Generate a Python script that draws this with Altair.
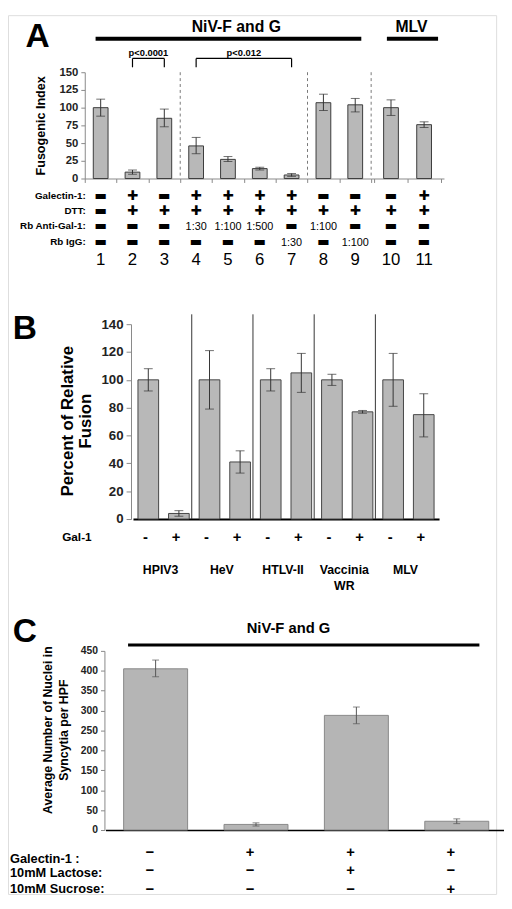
import altair as alt
import pandas as pd

FONT = "Liberation Sans"
SYMFONT = "DejaVu Sans"
W, H = 496, 893
BAR_FILL = "#b8b8b8"
DARK = "#222222"
GRID = "#888888"

# ---------------- Panel A data ----------------
a_lanes = ["1", "2", "3", "4", "5", "6", "7", "8", "9", "10", "11"]
a_values = [100, 9, 85, 46, 27, 14, 5, 107, 104, 100, 76]
a_err_lo = [88, 6, 73, 35, 24, 12, 3, 96, 94, 89, 72]
a_err_hi = [112, 12, 98, 58, 31, 16, 7, 119, 113, 111, 80]
a_virus = ["NiV"] * 9 + ["MLV"] * 2
a_galectin = ["−", "+", "−", "+", "+", "+", "+", "−", "−", "−", "+"]
a_dtt = ["−", "+", "+", "+", "+", "+", "+", "+", "+", "+", "+"]
a_anti_gal = ["−", "−", "−", "1:30", "1:100", "1:500", "−", "1:100", "−", "−", "−"]
a_rb_igg = ["−", "−", "−", "−", "−", "−", "1:30", "−", "1:100", "−", "−"]
a_row_labels = ["Galectin-1:", "DTT:", "Rb Anti-Gal-1:", "Rb IgG:"]
a_dividers = ["3", "7", "9"]
a_br_from = ["2", "4"]
a_br_to = ["3", "7"]
a_br_mid = ["2", "5"]
a_br_text = ["p<0.0001", "p<0.012"]

# ---------------- Panel B data ----------------
b_viruses = ["HPIV3", "HeV", "HTLV-II", "Vaccinia WR", "MLV"]
b_labels = ["HPIV3", "HeV", "HTLV-II", "Vaccinia\nWR", "MLV"]
b_gal = ["-", "+"]
b_values = [100, 4, 100, 41, 100, 105, 100, 77, 100, 75]
b_err_lo = [92, 2, 79, 33, 92, 91, 96, 76, 81, 59]
b_err_hi = [108, 6, 121, 49, 108, 119, 104, 78, 119, 90]

# ---------------- Panel C data ----------------
c_conds = ["1", "2", "3", "4"]
c_values = [405, 14, 288, 22]
c_err_lo = [385, 10, 267, 16]
c_err_hi = [427, 18, 309, 28]
c_galectin = ["−", "+", "+", "+"]
c_lactose = ["−", "−", "+", "−"]
c_sucrose = ["−", "−", "−", "+"]
c_row_labels = ["Galectin-1 :", "10mM Lactose:", "10mM Sucrose:"]

HEAVY = {"+": "✚", "−": "▬"}


def P(v):
    """page pixel -> plot pixel"""
    return v - 8


def vtext(txt, x, y, size, weight="bold", align="center", baseline="alphabetic"):
    return alt.Chart(pd.DataFrame({"t": [txt]})).mark_text(
        font=FONT, fontSize=size, fontWeight=weight, align=align, baseline=baseline, color="black"
    ).encode(text="t:N", x=alt.value(x), y=alt.value(y))


def hline(x1, x2, y, w):
    return alt.Chart(pd.DataFrame({"a": [0]})).mark_rule(color="black", strokeWidth=w).encode(
        x=alt.value(x1), x2=alt.value(x2), y=alt.value(y))


# ============ PANEL A ============
dfA = pd.DataFrame({"lane": a_lanes, "value": a_values, "lo": a_err_lo, "hi": a_err_hi,
                    "virus": a_virus, "r0": a_galectin, "r1": a_dtt, "r2": a_anti_gal, "r3": a_rb_igg})
dfA["num"] = dfA["lane"]

yA_scale = alt.Scale(domain=[0, 150], range=[P(174), P(66)])
yA_axis = alt.Axis(orient="left", offset=-P(86), values=[0, 25, 50, 75, 100, 125, 150], grid=False,
                   tickSize=4, tickColor=GRID, domainColor=GRID, labelFont=FONT, labelFontSize=11.5,
                   labelFontWeight="bold", labelColor=DARK, labelPadding=3,
                   title="Fusogenic Index", titleFont=FONT, titleFontSize=12.8, titleFontWeight="bold",
                   titleColor="black", titlePadding=12, titleY=P(120))
row_y_A = [P(192), P(207), P(222), P(239)]


def yA(field):
    return alt.Y(field, type="quantitative", scale=yA_scale, axis=yA_axis)


def a_sub(df, rng, pad_outer, extra=None):
    dom = list(df["lane"])
    sc = alt.Scale(domain=dom, range=rng, paddingInner=0, paddingOuter=pad_outer)
    xax = alt.Axis(orient="bottom", offset=-(H - P(174)), labels=False, title=None, ticks=True,
                   tickBand="extent", tickSize=4, tickColor=GRID, domainColor=GRID, grid=False)

    def xf(field="lane", **kw):
        return alt.X(field, type="ordinal", scale=sc, axis=xax, **kw)

    base = alt.Chart(df)
    bars = base.mark_bar(size=15, fill=BAR_FILL, stroke="#3a3a3a", strokeWidth=1).encode(
        x=xf(), y=yA("value"))
    err = base.mark_rule(color="#333", strokeWidth=1).encode(x=xf(), y=yA("lo"), y2="hi:Q")
    cap_lo = base.mark_tick(color="#333", size=9, thickness=1).encode(x=xf(), y=yA("lo"))
    cap_hi = base.mark_tick(color="#333", size=9, thickness=1).encode(x=xf(), y=yA("hi"))
    layers = [bars, err, cap_lo, cap_hi]
    for i, col in enumerate(["r0", "r1", "r2", "r3"]):
        d = df.copy()
        d["t"] = d[col].map(lambda s: HEAVY.get(s, s))
        d["sym"] = d[col].map(lambda s: 1 if s in HEAVY else 0)
        sym = alt.Chart(d).transform_filter("datum.sym == 1").mark_text(
            font=SYMFONT, fontSize=13.5, baseline="middle", color="black").encode(
            x=xf(), y=alt.value(row_y_A[i]), text="t:N")
        txt = alt.Chart(d).transform_filter("datum.sym == 0").mark_text(
            font=FONT, fontSize=11, baseline="middle", color="black").encode(
            x=xf(), y=alt.value(row_y_A[i] + 1), text="t:N")
        layers += [sym, txt]
    nums = base.mark_text(font=FONT, fontSize=17, baseline="middle", color="black").encode(
        x=xf(), y=alt.value(P(257)), text="num:N")
    layers.append(nums)
    if extra is not None:
        layers += extra(xf)
    return alt.layer(*layers)


def niv_extra(xf):
    divs = alt.Chart(pd.DataFrame({"lane": a_dividers})).mark_rule(
        color="#777", strokeDash=[3, 3], strokeWidth=1).encode(
        x=xf(bandPosition=1), y=alt.value(P(66)), y2=alt.value(P(174)))
    br = pd.DataFrame({"a": a_br_from, "b": a_br_to, "m": a_br_mid, "t": a_br_text})
    top = alt.Chart(br).mark_rule(color="black", strokeWidth=1.2).encode(
        x=xf("a"), x2="b:O", y=alt.value(P(52)))
    left = alt.Chart(br).mark_rule(color="black", strokeWidth=1.2).encode(
        x=xf("a"), y=alt.value(P(52)), y2=alt.value(P(61)))
    right = alt.Chart(br).mark_rule(color="black", strokeWidth=1.2).encode(
        x=xf("b"), y=alt.value(P(52)), y2=alt.value(P(61)))
    lab = alt.Chart(br).mark_text(font=FONT, fontSize=9.5, fontWeight="bold", color="black").encode(
        x=xf("m", bandPosition=1), y=alt.value(P(47)), text="t:N")
    return [divs, top, left, right, lab]


panelA_niv = a_sub(dfA[dfA.virus == "NiV"], [P(86), P(377)], 0, niv_extra)
panelA_mlv = a_sub(dfA[dfA.virus == "MLV"], [P(377), P(451)], 0.1)
a_labels_layers = [vtext(lbl, P(87), y, 10, align="right", baseline="middle")
                   for lbl, y in zip(a_row_labels, row_y_A)]
panelA = alt.layer(
    panelA_niv, panelA_mlv,
    vtext("A", P(38), P(40), 34),
    vtext("NiV-F and G", P(240), P(25), 16),
    hline(P(97), P(367), P(32), 4),
    vtext("MLV", P(418), P(25), 16),
    hline(P(393), P(445), P(32), 4),
    *a_labels_layers,
).resolve_scale(x="independent")

# ============ PANEL B ============
rowsB = []
for vi, v in enumerate(b_viruses):
    for gi, g in enumerate(b_gal):
        k = vi * 2 + gi
        rowsB.append({"key": f"{v}|{g}", "virus": v, "label": b_labels[vi], "gal": g,
                      "value": b_values[k], "lo": b_err_lo[k], "hi": b_err_hi[k]})
dfB = pd.DataFrame(rowsB)
keysB = list(dfB["key"])
xB_scale = alt.Scale(domain=keysB, range=[P(135), P(446)], paddingInner=0, paddingOuter=0)
yB_scale = alt.Scale(domain=[0, 140], range=[P(520), P(322)])
yB_axis = alt.Axis(orient="left", offset=-P(133), values=list(range(0, 141, 20)), grid=False,
                   tickSize=5, tickColor=GRID, domainColor=GRID, labelFont=FONT, labelFontSize=13.5,
                   labelFontWeight="bold", labelColor=DARK, labelPadding=3,
                   title=["Percent of Relative", "Fusion"], titleFont=FONT, titleFontSize=17,
                   titleFontWeight="bold", titleColor="black", titlePadding=6.5, titleLineHeight=18,
                   titleY=P(420))
xB_axis = alt.Axis(orient="bottom", offset=-(H - P(520)), labels=False, ticks=False, title=None,
                   domainColor="black", domainWidth=2, grid=False)


def xB(**kw):
    return alt.X("key", type="ordinal", scale=xB_scale, axis=xB_axis, **kw)


def yB(field):
    return alt.Y(field, type="quantitative", scale=yB_scale, axis=yB_axis)


baseB = alt.Chart(dfB)
barsB = baseB.mark_bar(size=21, fill=BAR_FILL, stroke="#444", strokeWidth=1).encode(x=xB(), y=yB("value"))
errB = baseB.mark_rule(color="#333", strokeWidth=1).encode(x=xB(), y=yB("lo"), y2="hi:Q")
capBlo = baseB.mark_tick(color="#333", size=9, thickness=1).encode(x=xB(), y=yB("lo"))
capBhi = baseB.mark_tick(color="#333", size=9, thickness=1).encode(x=xB(), y=yB("hi"))
sepB = baseB.transform_filter("datum.gal == '+' && datum.virus != 'MLV'").mark_rule(
    color="#333", strokeWidth=1).encode(
    x=xB(bandPosition=0.92), y=alt.value(P(312)), y2=alt.value(P(520)))
signB = baseB.mark_text(font=FONT, fontSize=15, fontWeight="bold", baseline="middle", dx=-3,
                        color="black").encode(x=xB(), y=alt.value(P(538)), text="gal:N")
groupB = baseB.transform_filter("datum.gal == '-'").mark_text(
    font=FONT, fontSize=12.5, fontWeight="bold", baseline="top", lineBreak="\n", lineHeight=16,
    color="black", dx=-3).encode(
    x=xB(bandPosition=1), y=alt.value(P(566)), text="label:N")
panelB = alt.layer(
    barsB, errB, capBlo, capBhi, sepB, signB, groupB,
    vtext("B", P(25), P(337), 34),
    vtext("Gal-1", P(63), P(538), 12, align="left", baseline="middle"),
)

# ============ PANEL C ============
dfC = pd.DataFrame({"cond": c_conds, "value": c_values, "lo": c_err_lo, "hi": c_err_hi,
                    "r0": c_galectin, "r1": c_lactose, "r2": c_sucrose})
xC_scale = alt.Scale(domain=c_conds, range=[P(107), P(515)], paddingInner=0, paddingOuter=0)
yC_scale = alt.Scale(domain=[0, 450], range=[P(836), P(654)])
yC_axis = alt.Axis(orient="left", offset=-P(106), values=list(range(0, 451, 50)), grid=False,
                   tickSize=4, tickColor=GRID, domainColor=GRID, labelFont=FONT, labelFontSize=10.5,
                   labelFontWeight="bold", labelColor=DARK, labelPadding=3,
                   title=["Average Number of Nuclei in", "Syncytia  per HPF"], titleFont=FONT,
                   titleFontSize=12.5, titleFontWeight="bold", titleColor="black", titlePadding=9.5,
                   titleLineHeight=17, titleY=P(734))
xC_axis = alt.Axis(orient="bottom", offset=-(H - P(836)), labels=False, ticks=False, title=None,
                   domainColor="black", domainWidth=1.5, grid=False)


def xC():
    return alt.X("cond", type="ordinal", scale=xC_scale, axis=xC_axis)


def yC(field):
    return alt.Y(field, type="quantitative", scale=yC_scale, axis=yC_axis)


baseC = alt.Chart(dfC)
barsC = baseC.mark_bar(size=65, fill="#b5b5b5", stroke="#888", strokeWidth=1).encode(x=xC(), y=yC("value"))
errC = baseC.mark_rule(color="#555", strokeWidth=1).encode(x=xC(), y=yC("lo"), y2="hi:Q")
capClo = baseC.mark_tick(color="#555", size=7, thickness=1).encode(x=xC(), y=yC("lo"))
capChi = baseC.mark_tick(color="#555", size=7, thickness=1).encode(x=xC(), y=yC("hi"))
row_y_C = [P(858), P(877), P(896)]
layersC = [barsC, errC, capClo, capChi]
for i, col in enumerate(["r0", "r1", "r2"]):
    d = dfC.copy()
    d["t"] = d[col]
    layersC.append(alt.Chart(d).mark_text(font=FONT, fontSize=15, fontWeight="bold", baseline="middle",
                                          dx=-6, color="black").encode(
        x=xC(), y=alt.value(row_y_C[i]), text="t:N"))
panelC = alt.layer(
    *layersC,
    vtext("C", P(25), P(645), 34),
    vtext("NiV-F and G", P(293), P(636), 15),
    hline(P(130), P(487), P(648), 3),
    vtext(c_row_labels[0], P(10), P(866), 13, align="left", baseline="middle"),
    vtext(c_row_labels[1], P(10), P(880), 13, align="left", baseline="middle"),
    vtext(c_row_labels[2], P(10), P(896), 13, align="left", baseline="middle"),
)

chart = alt.layer(panelA, panelB, panelC).resolve_scale(x="independent", y="independent").properties(
    width=W, height=H, autosize=alt.AutoSizeParams(type="none"),
    padding={"left": 0, "top": 0, "right": 8, "bottom": 8}
).configure_view(stroke=None).configure(background="white")

chart.save("out.html", embed_options={"renderer": "svg", "actions": False})
